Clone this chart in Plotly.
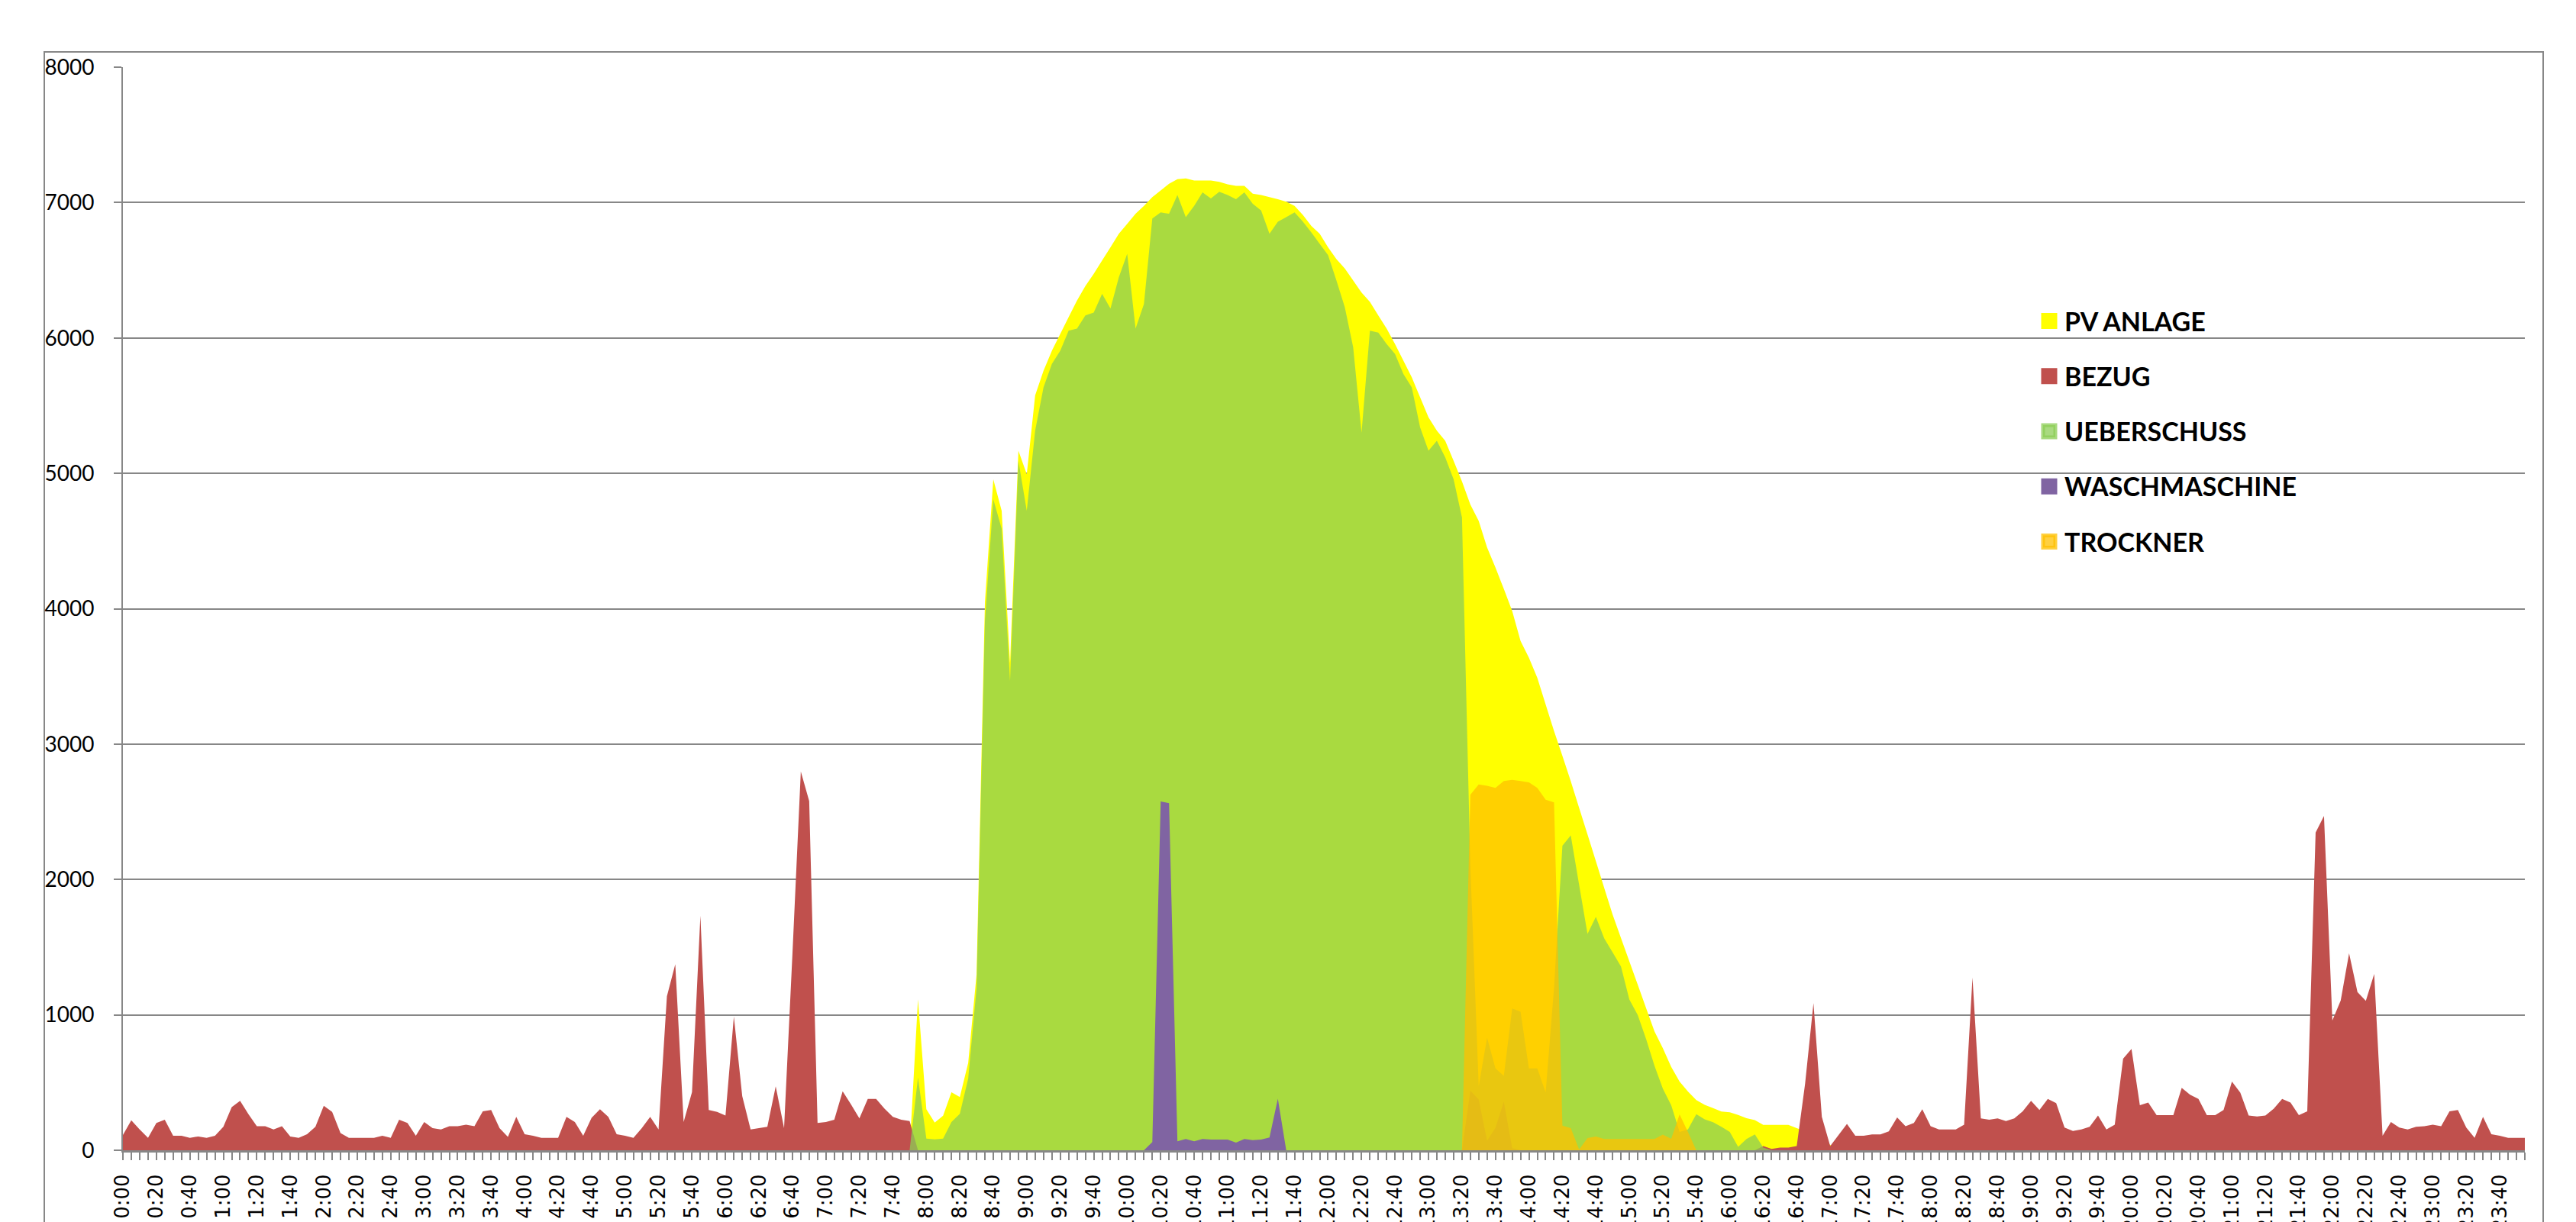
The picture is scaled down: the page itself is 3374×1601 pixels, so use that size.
import plotly.graph_objects as go

# 5-minute samples, one row per hour (12 values per row)
PV_ANLAGE = [
    0, 0, 0, 0, 0, 0, 0, 0, 0, 0, 0, 0,
    0, 0, 0, 0, 0, 0, 0, 0, 0, 0, 0, 0,
    0, 0, 0, 0, 0, 0, 0, 0, 0, 0, 0, 0,
    0, 0, 0, 0, 0, 0, 0, 0, 0, 0, 0, 0,
    0, 0, 0, 0, 0, 0, 0, 0, 0, 0, 0, 0,
    0, 0, 0, 0, 0, 0, 0, 0, 0, 0, 0, 0,
    0, 0, 0, 0, 0, 0, 0, 0, 0, 0, 0, 0,
    0, 0, 0, 0, 0, 0, 0, 0, 0, 0, 0, 1115,
    303, 205, 255, 428, 393, 645, 1300, 4050, 4955, 4723, 3600, 5167,
    4994, 5576, 5758, 5906, 6029, 6153, 6276, 6384, 6473, 6572, 6670, 6769,
    6843, 6917, 6976, 7040, 7089, 7139, 7173, 7178, 7163, 7163, 7163, 7153,
    7134, 7124, 7124, 7065, 7055, 7040, 7025, 7006, 6976, 6907, 6828, 6769,
    6670, 6582, 6513, 6424, 6335, 6266, 6167, 6069, 5955, 5832, 5709, 5561,
    5413, 5315, 5241, 5093, 4940, 4770, 4649, 4452, 4304, 4146, 3983, 3762,
    3638, 3490, 3293, 3096, 2914, 2726, 2529, 2332, 2135, 1937, 1740, 1568,
    1395, 1223, 1050, 878, 754, 616, 508, 434, 370, 335, 311, 286,
    280, 261, 237, 222, 187, 187, 187, 187, 163, 140, 120, 90,
    40, 0, 0, 0, 0, 0, 0, 0, 0, 0, 0, 0,
    0, 0, 0, 0, 0, 0, 0, 0, 0, 0, 0, 0,
    0, 0, 0, 0, 0, 0, 0, 0, 0, 0, 0, 0,
    0, 0, 0, 0, 0, 0, 0, 0, 0, 0, 0, 0,
    0, 0, 0, 0, 0, 0, 0, 0, 0, 0, 0, 0,
    0, 0, 0, 0, 0, 0, 0, 0, 0, 0, 0, 0,
    0, 0, 0, 0, 0, 0, 0, 0, 0, 0, 0, 0,
]

BEZUG = [
    113, 221, 154, 92, 201, 225, 107, 107, 92, 102, 92, 107,
    174, 318, 365, 266, 178, 178, 154, 178, 102, 92, 119, 174,
    328, 283, 127, 92, 92, 92, 92, 107, 92, 225, 201, 107,
    209, 164, 154, 178, 178, 189, 178, 287, 297, 164, 98, 246,
    119, 107, 92, 92, 92, 246, 209, 107, 240, 303, 246, 119,
    107, 92, 164, 246, 154, 1138, 1374, 209, 430, 1732, 297, 283,
    256, 988, 400, 154, 164, 174, 472, 164, 1450, 2798, 2579, 201,
    209, 225, 435, 338, 236, 379, 379, 307, 246, 225, 215, 0,
    0, 0, 0, 0, 0, 0, 0, 0, 0, 0, 0, 0,
    0, 0, 0, 0, 0, 0, 0, 0, 0, 0, 0, 0,
    0, 0, 0, 0, 0, 0, 0, 0, 0, 0, 0, 0,
    0, 0, 0, 0, 0, 0, 0, 0, 0, 0, 0, 0,
    0, 0, 0, 0, 0, 0, 0, 0, 0, 0, 0, 0,
    0, 0, 0, 0, 0, 440, 375, 70, 165, 360, 15, 0,
    0, 0, 0, 0, 0, 0, 0, 0, 0, 0, 0, 0,
    0, 0, 0, 0, 0, 0, 0, 0, 0, 0, 0, 0,
    0, 0, 0, 0, 31, 10, 20, 20, 31, 492, 1087, 246,
    31, 113, 195, 107, 107, 117, 117, 139, 242, 178, 201, 303,
    178, 154, 154, 154, 189, 1275, 236, 225, 236, 215, 236, 287,
    365, 297, 379, 348, 168, 143, 154, 174, 256, 154, 189, 677,
    748, 332, 353, 260, 260, 260, 461, 410, 379, 260, 260, 297,
    508, 426, 256, 250, 256, 307, 379, 353, 260, 287, 2347, 2470,
    959, 1107, 1455, 1168, 1103, 1302, 107, 209, 168, 154, 174, 178,
    189, 178, 287, 297, 168, 92, 246, 119, 107, 92, 92, 92,
]

UEBERSCHUSS = [
    0, 0, 0, 0, 0, 0, 0, 0, 0, 0, 0, 0,
    0, 0, 0, 0, 0, 0, 0, 0, 0, 0, 0, 0,
    0, 0, 0, 0, 0, 0, 0, 0, 0, 0, 0, 0,
    0, 0, 0, 0, 0, 0, 0, 0, 0, 0, 0, 0,
    0, 0, 0, 0, 0, 0, 0, 0, 0, 0, 0, 0,
    0, 0, 0, 0, 0, 0, 0, 0, 0, 0, 0, 0,
    0, 0, 0, 0, 0, 0, 0, 0, 0, 0, 0, 0,
    0, 0, 0, 0, 0, 0, 0, 0, 0, 0, 0, 537,
    86, 80, 86, 209, 269, 530, 1198, 3909, 4807, 4590, 3466, 5093,
    4723, 5315, 5635, 5808, 5906, 6054, 6069, 6167, 6187, 6325, 6217, 6448,
    6621, 6069, 6251, 6882, 6927, 6917, 7055, 6892, 6976, 7075, 7030, 7080,
    7055, 7025, 7075, 6991, 6941, 6769, 6858, 6892, 6927, 6858, 6779, 6695,
    6611, 6424, 6227, 5931, 5300, 6054, 6039, 5955, 5881, 5734, 5635, 5339,
    5167, 5241, 5117, 4955, 4674, 2100, 474, 831, 605, 549, 1047, 1023,
    605, 605, 427, 1200, 2250, 2325, 1959, 1598, 1724, 1564, 1461, 1357,
    1113, 1000, 822, 624, 455, 333, 135, 154, 267, 229, 207, 173,
    135, 26, 83, 117, 20, 0, 0, 0, 0, 0, 0, 0,
    0, 0, 0, 0, 0, 0, 0, 0, 0, 0, 0, 0,
    0, 0, 0, 0, 0, 0, 0, 0, 0, 0, 0, 0,
    0, 0, 0, 0, 0, 0, 0, 0, 0, 0, 0, 0,
    0, 0, 0, 0, 0, 0, 0, 0, 0, 0, 0, 0,
    0, 0, 0, 0, 0, 0, 0, 0, 0, 0, 0, 0,
    0, 0, 0, 0, 0, 0, 0, 0, 0, 0, 0, 0,
    0, 0, 0, 0, 0, 0, 0, 0, 0, 0, 0, 0,
]

WASCHMASCHINE = [
    0, 0, 0, 0, 0, 0, 0, 0, 0, 0, 0, 0,
    0, 0, 0, 0, 0, 0, 0, 0, 0, 0, 0, 0,
    0, 0, 0, 0, 0, 0, 0, 0, 0, 0, 0, 0,
    0, 0, 0, 0, 0, 0, 0, 0, 0, 0, 0, 0,
    0, 0, 0, 0, 0, 0, 0, 0, 0, 0, 0, 0,
    0, 0, 0, 0, 0, 0, 0, 0, 0, 0, 0, 0,
    0, 0, 0, 0, 0, 0, 0, 0, 0, 0, 0, 0,
    0, 0, 0, 0, 0, 0, 0, 0, 0, 0, 0, 0,
    0, 0, 0, 0, 0, 0, 0, 0, 0, 0, 0, 0,
    0, 0, 0, 0, 0, 0, 0, 0, 0, 0, 0, 0,
    0, 0, 0, 60, 2576, 2564, 66, 83, 66, 83, 79, 79,
    79, 56, 83, 75, 79, 94, 380, 0, 0, 0, 0, 0,
    0, 0, 0, 0, 0, 0, 0, 0, 0, 0, 0, 0,
    0, 0, 0, 0, 0, 0, 0, 0, 0, 0, 0, 0,
    0, 0, 0, 0, 0, 0, 0, 0, 0, 0, 0, 0,
    0, 0, 0, 0, 0, 0, 0, 0, 0, 0, 0, 0,
    0, 0, 0, 0, 0, 0, 0, 0, 0, 0, 0, 0,
    0, 0, 0, 0, 0, 0, 0, 0, 0, 0, 0, 0,
    0, 0, 0, 0, 0, 0, 0, 0, 0, 0, 0, 0,
    0, 0, 0, 0, 0, 0, 0, 0, 0, 0, 0, 0,
    0, 0, 0, 0, 0, 0, 0, 0, 0, 0, 0, 0,
    0, 0, 0, 0, 0, 0, 0, 0, 0, 0, 0, 0,
    0, 0, 0, 0, 0, 0, 0, 0, 0, 0, 0, 0,
    0, 0, 0, 0, 0, 0, 0, 0, 0, 0, 0, 0,
]

TROCKNER = [
    0, 0, 0, 0, 0, 0, 0, 0, 0, 0, 0, 0,
    0, 0, 0, 0, 0, 0, 0, 0, 0, 0, 0, 0,
    0, 0, 0, 0, 0, 0, 0, 0, 0, 0, 0, 0,
    0, 0, 0, 0, 0, 0, 0, 0, 0, 0, 0, 0,
    0, 0, 0, 0, 0, 0, 0, 0, 0, 0, 0, 0,
    0, 0, 0, 0, 0, 0, 0, 0, 0, 0, 0, 0,
    0, 0, 0, 0, 0, 0, 0, 0, 0, 0, 0, 0,
    0, 0, 0, 0, 0, 0, 0, 0, 0, 0, 0, 0,
    0, 0, 0, 0, 0, 0, 0, 0, 0, 0, 0, 0,
    0, 0, 0, 0, 0, 0, 0, 0, 0, 0, 0, 0,
    0, 0, 0, 0, 0, 0, 0, 0, 0, 0, 0, 0,
    0, 0, 0, 0, 0, 0, 0, 0, 0, 0, 0, 0,
    0, 0, 0, 0, 0, 0, 0, 0, 0, 0, 0, 0,
    0, 0, 0, 0, 0, 2626, 2702, 2692, 2677, 2727, 2736, 2727,
    2717, 2677, 2589, 2569, 182, 164, 5, 90, 102, 83, 83, 83,
    83, 83, 83, 83, 115, 85, 265, 135, 0, 0, 0, 0,
    0, 0, 0, 0, 0, 0, 0, 0, 0, 0, 0, 0,
    0, 0, 0, 0, 0, 0, 0, 0, 0, 0, 0, 0,
    0, 0, 0, 0, 0, 0, 0, 0, 0, 0, 0, 0,
    0, 0, 0, 0, 0, 0, 0, 0, 0, 0, 0, 0,
    0, 0, 0, 0, 0, 0, 0, 0, 0, 0, 0, 0,
    0, 0, 0, 0, 0, 0, 0, 0, 0, 0, 0, 0,
    0, 0, 0, 0, 0, 0, 0, 0, 0, 0, 0, 0,
    0, 0, 0, 0, 0, 0, 0, 0, 0, 0, 0, 0,
]

TICK_LABELS = [
    "0:00", "0:20", "0:40", "1:00", "1:20", "1:40", "2:00", "2:20", "2:40",
    "3:00", "3:20", "3:40", "4:00", "4:20", "4:40", "5:00", "5:20", "5:40",
    "6:00", "6:20", "6:40", "7:00", "7:20", "7:40", "8:00", "8:20", "8:40",
    "9:00", "9:20", "9:40", "10:00", "10:20", "10:40", "11:00", "11:20", "11:40",
    "12:00", "12:20", "12:40", "13:00", "13:20", "13:40", "14:00", "14:20", "14:40",
    "15:00", "15:20", "15:40", "16:00", "16:20", "16:40", "17:00", "17:20", "17:40",
    "18:00", "18:20", "18:40", "19:00", "19:20", "19:40", "20:00", "20:20", "20:40",
    "21:00", "21:20", "21:40", "22:00", "22:20", "22:40", "23:00", "23:20", "23:40",
]

SERIES = [
    ("PV ANLAGE", PV_ANLAGE, "#FFFF00"),
    ("BEZUG", BEZUG, "#C0504D"),
    ("UEBERSCHUSS", UEBERSCHUSS, "rgba(140,205,85,0.75)"),
    ("WASCHMASCHINE", WASCHMASCHINE, "#8064A2"),
    ("TROCKNER", TROCKNER, "rgba(255,192,0,0.75)"),
]

n = len(PV_ANLAGE)
x_idx = list(range(n))
GRID = "#878787"

fig = go.Figure()
for name, vals, col in SERIES:
    fig.add_trace(go.Scatter(
        x=x_idx, y=vals, mode="none", fill="tozeroy", fillcolor=col,
        name=name, showlegend=False, hoverinfo="x+y+name"))

for k, (name, vals, col) in enumerate(SERIES):
    fig.add_trace(go.Scatter(
        x=[None], y=[None], mode="markers", name="<b>" + name + "</b>",
        legendgroup="g%d" % k, showlegend=True,
        marker=dict(symbol="square", size=16, color=col,
                    line=dict(color=col, width=5))))

W, H = 3374, 1601
OFF = 8  # page body margin offset
plot_l, plot_r, plot_t, plot_b = 161 - OFF, 3307 - OFF, 88 - OFF, 1507 - OFF
pw, ph = plot_r - plot_l, plot_b - plot_t

fig.update_layout(
    width=W, height=H,
    margin=dict(l=plot_l, r=W - plot_r, t=plot_t, b=H - plot_b, autoexpand=False),
    paper_bgcolor="white", plot_bgcolor="white",
    showlegend=True,
    legend=dict(
        x=(2664 - OFF - plot_l) / pw, y=(plot_b - (392 - OFF)) / ph,
        xanchor="left", yanchor="top",
        font=dict(family="Lato", size=34, color="black"),
        tracegroupgap=25, itemsizing="trace",
        bgcolor="rgba(0,0,0,0)", borderwidth=0,
    ),
    shapes=[dict(
        type="rect", xref="paper", yref="paper",
        x0=(58 - OFF - plot_l) / pw, x1=(3331 - OFF - plot_l) / pw,
        y0=(plot_b - 1700) / ph, y1=(plot_b - (68 - OFF)) / ph,
        line=dict(color=GRID, width=2), fillcolor="rgba(0,0,0,0)", layer="below",
    )],
)

fig.update_xaxes(
    range=[0, n - 1], showgrid=False, zeroline=False,
    tickmode="array", tickvals=x_idx[::4], ticktext=TICK_LABELS,
    tickangle=-90, ticks="outside", ticklen=10, tickwidth=2, tickcolor=GRID,
    ticklabelstandoff=8,
    minor=dict(tickmode="array", tickvals=x_idx, ticks="outside",
               ticklen=10, tickwidth=2, tickcolor=GRID, showgrid=False),
    showline=True, linecolor=GRID, linewidth=3,
    tickfont=dict(family="DejaVu Sans", size=26, color="black"),
    fixedrange=True,
)
fig.update_yaxes(
    range=[0, 8000], dtick=1000, tick0=0,
    showgrid=True, gridcolor=GRID, gridwidth=2, zeroline=False,
    ticks="outside", ticklen=10, tickwidth=2, tickcolor=GRID,
    ticklabelstandoff=20,
    showline=True, linecolor=GRID, linewidth=2,
    tickfont=dict(family="Lato", size=28, color="black"),
    fixedrange=True,
)

fig.write_html("out.html")
